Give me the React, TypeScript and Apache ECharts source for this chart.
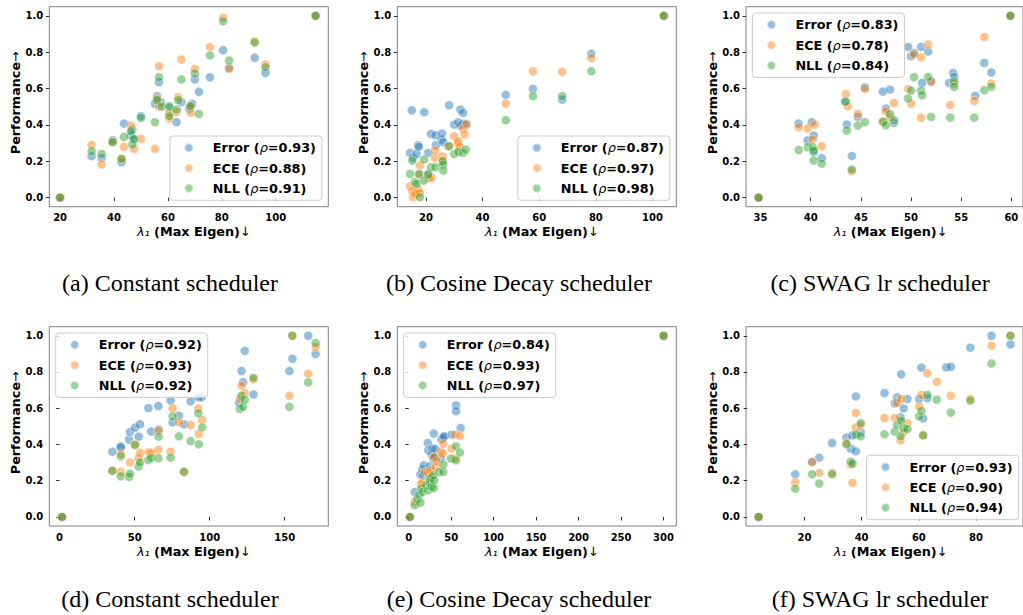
import React, { useEffect, useRef } from "react";
import * as echarts from "echarts";

// ---------- data ----------
const METRICS = ["Error", "ECE", "NLL"];

// (a) Constant scheduler
const aError = [[20,0],[31.7,0.228],[35.4,0.218],[39.5,0.316],[42.8,0.195],[43.7,0.407],[46.3,0.341],[46.8,0.374],[47.4,0.319],[50.0,0.448],[55.2,0.516],[56.0,0.558],[56.7,0.635],[57.4,0.525],[60.5,0.494],[63.2,0.415],[65.0,0.525],[67.9,0.488],[69.0,0.516],[70.0,0.65],[71.5,0.582],[75.6,0.662],[80.5,0.811],[82.7,0.714],[92.2,0.769],[96.2,0.686],[114.8,1.0]];
const aECE = [[20,0],[31.7,0.29],[35.4,0.182],[39.5,0.305],[42.8,0.213],[43.7,0.279],[46.3,0.396],[47.5,0.268],[50.0,0.323],[55.2,0.268],[56.0,0.545],[56.7,0.723],[56.8,0.5],[60.5,0.435],[60.5,0.466],[63.2,0.47],[63.8,0.552],[65.0,0.76],[68.1,0.503],[68.6,0.466],[70.0,0.708],[75.6,0.828],[80.5,0.989],[82.7,0.708],[92.2,0.86],[96.2,0.732],[114.8,1.0]];
const aNLL = [[20,0],[31.7,0.255],[35.4,0.24],[39.5,0.305],[42.8,0.213],[43.7,0.334],[46.3,0.365],[46.8,0.292],[47.4,0.323],[50.0,0.438],[55.2,0.415],[56.0,0.536],[56.7,0.662],[57.7,0.5],[60.5,0.448],[60.5,0.503],[63.2,0.484],[63.8,0.536],[65.0,0.65],[68.4,0.503],[70.0,0.683],[71.5,0.46],[75.6,0.782],[80.5,0.97],[82.7,0.754],[92.2,0.853],[96.2,0.717],[114.8,1.0]];
const aRho = [0.93, 0.88, 0.91];
const aTicks = [20, 40, 60, 80, 100];
const aRange = [16.0, 119.5];

// (b) Cosine Decay scheduler
const bError = [[14.4,0.246],[15.0,0.48],[15.5,0.218],[16.7,0.24],[17.3,0.288],[17.5,0.279],[19.4,0.47],[20.8,0.246],[20.8,0.127],[21.8,0.35],[23.4,0.343],[23.5,0.288],[25.5,0.319],[25.7,0.352],[26.1,0.305],[28.2,0.508],[30.0,0.402],[31.4,0.414],[32.2,0.484],[32.2,0.396],[33.1,0.466],[33.1,0.406],[34.3,0.4],[48.2,0.565],[57.8,0.598],[68.1,0.539],[78.4,0.791],[104,1.0]];
const bECE = [[14.4,0.062],[15.2,0.035],[15.5,0.002],[16.4,0.02],[17.3,0.044],[17.9,0.026],[17.9,0.127],[17.9,0.178],[21.1,0.108],[22.0,0.11],[23.2,0.218],[23.2,0.259],[25.9,0.227],[25.9,0.204],[28.1,0.283],[30.0,0.337],[31.2,0.296],[31.4,0.31],[32.0,0.279],[33.1,0.38],[33.7,0.347],[34.3,0.406],[48.2,0.517],[57.8,0.695],[68.1,0.692],[78.4,0.767],[104,1.0]];
const bNLL = [[14.4,0.13],[15.2,0.204],[16.1,0.086],[16.7,0.075],[17.5,0.13],[17.9,0.002],[19.3,0.094],[19.4,0.209],[20.8,0.127],[21.8,0.167],[23.4,0.167],[25.9,0.2],[26.1,0.182],[26.1,0.149],[28.1,0.283],[30.0,0.24],[31.4,0.251],[33.1,0.246],[34.1,0.264],[48.2,0.426],[57.8,0.558],[68.1,0.558],[78.4,0.695],[104,1.0]];
const bRho = [0.87, 0.97, 0.98];
const bTicks = [20, 40, 60, 80, 100];
const bRange = [9.9, 108.4];

// (c) SWAG lr scheduler
const cError = [[34.8,0],[38.8,0.407],[39.7,0.314],[40.1,0.415],[40.3,0.341],[40.3,0.25],[41.1,0.217],[43.4,0.528],[43.6,0.402],[44.1,0.229],[44.7,0.444],[45.4,0.607],[47.2,0.583],[47.5,0.49],[47.9,0.594],[48.3,0.411],[49.7,0.829],[50.0,0.778],[50.3,0.796],[51.0,0.829],[51.1,0.631],[51.7,0.804],[52.0,0.64],[53.8,0.631],[54.2,0.686],[54.3,0.664],[56.4,0.56],[57.3,0.741],[58.0,0.688],[59.9,1.0]];
const cECE = [[34.8,0],[38.8,0.387],[39.7,0.38],[40.2,0.319],[40.4,0.402],[41.1,0.283],[43.5,0.569],[43.7,0.503],[44.1,0.145],[44.7,0.46],[45.4,0.598],[47.2,0.415],[47.5,0.475],[47.9,0.44],[48.3,0.521],[49.7,0.598],[50.0,0.517],[50.3,0.787],[51.0,0.771],[51.0,0.439],[51.7,0.842],[52.0,0.637],[53.9,0.51],[54.3,0.627],[56.3,0.532],[57.3,0.883],[58.0,0.627],[59.9,1.0]];
const cNLL = [[34.8,0],[38.8,0.262],[39.7,0.277],[40.2,0.277],[40.3,0.259],[40.3,0.204],[41.1,0.187],[43.5,0.528],[43.6,0.369],[44.1,0.154],[44.7,0.396],[45.4,0.415],[47.2,0.418],[47.5,0.398],[47.9,0.459],[48.3,0.426],[49.7,0.545],[50.0,0.589],[50.3,0.662],[51.0,0.589],[51.1,0.563],[51.7,0.664],[52.0,0.444],[53.9,0.44],[54.3,0.64],[54.3,0.609],[56.3,0.44],[57.3,0.591],[58.0,0.609],[59.9,1.0]];
const cRho = [0.83, 0.78, 0.84];
const cTicks = [35, 40, 45, 50, 55, 60];
const cRange = [33.55, 61.16];

// (d) Constant scheduler
const dError = [[1.6,0],[35.2,0.36],[40.8,0.39],[40.8,0.384],[46.3,0.426],[46.9,0.469],[50.3,0.493],[52.7,0.443],[53.6,0.511],[59.2,0.601],[61.0,0.471],[65.8,0.612],[66.0,0.483],[74.0,0.642],[75.3,0.522],[79.5,0.559],[82.9,0.511],[87.3,0.638],[92.4,0.66],[94.6,0.66],[119.7,0.629],[121.2,0.805],[122.3,0.744],[123.4,0.917],[129.2,0.676],[153.1,0.805],[155.1,0.873],[165.7,1.0],[170.6,0.899]];
const dECE = [[1.6,0],[35.2,0.257],[40.8,0.349],[40.8,0.248],[46.9,0.301],[50.3,0.401],[52.7,0.324],[53.6,0.353],[59.2,0.357],[61.0,0.353],[65.8,0.371],[66.0,0.476],[74.0,0.36],[75.3,0.599],[79.5,0.522],[82.9,0.246],[87.3,0.507],[92.4,0.599],[92.8,0.458],[95.0,0.535],[120.1,0.653],[121.2,0.724],[123.4,0.684],[129.2,0.759],[153.1,0.669],[155.1,1.0],[165.7,0.79],[170.6,0.938]];
const dNLL = [[1.6,0],[35.2,0.254],[40.8,0.335],[40.8,0.224],[46.3,0.221],[46.9,0.239],[50.3,0.397],[52.7,0.279],[53.6,0.301],[59.2,0.314],[61.0,0.325],[65.8,0.324],[66.0,0.443],[74.0,0.327],[75.3,0.555],[79.5,0.445],[82.9,0.25],[87.3,0.419],[92.4,0.572],[92.8,0.401],[95.0,0.494],[120.1,0.596],[121.2,0.669],[122.3,0.607],[123.4,0.647],[129.2,0.768],[153.1,0.608],[155.1,1.0],[165.7,0.743],[170.6,0.96]];
const dRho = [0.92, 0.93, 0.92];
const dTicks = [0, 50, 100, 150];
const dRange = [-6.85, 179.05];

// (e) Cosine Decay scheduler
const eError = [[1.5,0],[7.1,0.138],[13.8,0.234],[16.2,0.263],[17.0,0.23],[17.8,0.285],[22.5,0.408],[23.0,0.368],[24.9,0.281],[26.9,0.344],[28.1,0.377],[28.9,0.322],[29.6,0.46],[30.8,0.331],[31.2,0.375],[37.9,0.325],[38.7,0.429],[40.7,0.441],[42.0,0.445],[50.6,0.454],[55.7,0.616],[55.7,0.583],[61.2,0.491],[300,1.0]];
const eECE = [[1.5,0],[7.1,0.083],[14.2,0.179],[15.8,0.19],[19.0,0.248],[23.0,0.245],[25.7,0.258],[26.9,0.221],[29.6,0.331],[32.0,0.276],[32.8,0.307],[37.9,0.362],[39.9,0.35],[40.7,0.405],[50.6,0.377],[54.5,0.454],[54.5,0.322],[60.4,0.447],[300,1.0]];
const eNLL = [[1.5,0],[7.1,0.065],[9.9,0.098],[12.3,0.12],[13.8,0.079],[15.0,0.157],[16.2,0.138],[20.9,0.175],[23.0,0.147],[24.9,0.19],[24.9,0.21],[26.9,0.166],[28.9,0.23],[29.6,0.16],[30.1,0.202],[36.0,0.248],[40.7,0.248],[40.7,0.289],[49.7,0.322],[55.7,0.39],[55.7,0.313],[60.4,0.355],[300,1.0]];
const eRho = [0.84, 0.93, 0.97];
const eTicks = [0, 50, 100, 150, 200, 250, 300];
const eRange = [-13.4, 315];

// (f) SWAG lr scheduler
const fError = [[4.0,0],[16.8,0.235],[22.7,0.303],[25.2,0.327],[29.7,0.408],[34.7,0.438],[36.2,0.377],[36.8,0.45],[38.0,0.362],[38.0,0.665],[39.7,0.467],[48.0,0.684],[51.6,0.627],[52.4,0.66],[53.6,0.55],[53.8,0.787],[54.7,0.599],[56.0,0.651],[60.1,0.651],[60.9,0.824],[61.5,0.544],[63.0,0.656],[69.6,0.825],[71.2,0.829],[78.0,0.934],[85.4,1.0],[92.0,0.952]];
const fECE = [[4.0,0],[16.8,0.191],[22.7,0.303],[25.2,0.243],[29.7,0.243],[34.7,0.408],[36.2,0.289],[36.8,0.188],[38.0,0.493],[38.0,0.574],[39.7,0.507],[48.0,0.546],[51.6,0.546],[52.4,0.629],[53.6,0.423],[53.8,0.651],[54.7,0.467],[56.0,0.518],[60.1,0.61],[60.9,0.673],[61.5,0.449],[63.0,0.794],[66.3,0.746],[71.2,0.669],[78.0,0.651],[85.4,0.945],[92.0,1.0]];
const fNLL = [[4.0,0],[16.8,0.156],[22.7,0.235],[25.2,0.184],[29.7,0.235],[34.7,0.401],[36.2,0.305],[36.8,0.294],[38.0,0.454],[39.7,0.518],[39.7,0.445],[48.0,0.456],[51.6,0.471],[52.4,0.507],[53.6,0.445],[53.8,0.531],[54.7,0.489],[56.0,0.485],[60.1,0.555],[60.9,0.585],[61.5,0.451],[63.0,0.673],[66.3,0.647],[71.2,0.576],[78.0,0.642],[85.4,0.847],[92.0,1.0]];
const fRho = [0.93, 0.90, 0.94];
const fTicks = [20, 40, 60, 80];
const fRange = [-0.4, 96.4];

const yTicks = [0, 0.2, 0.4, 0.6, 0.8, 1.0];
const yRange = [-0.05, 1.05];

const X_NAME = "{i|λ₁}{b| (Max Eigen)}{a|↓}";
const Y_NAME = "{b|Performance}{a|→}";

const CAPTIONS = [
  "(a) Constant scheduler",
  "(b) Cosine Decay scheduler",
  "(c) SWAG lr scheduler",
  "(d) Constant scheduler",
  "(e) Cosine Decay scheduler",
  "(f) SWAG lr scheduler",
];

const PANELS = [
  { id: "a", series: [aError, aECE, aNLL], rho: aRho, ticks: aTicks, range: aRange, legend: "lr" },
  { id: "b", series: [bError, bECE, bNLL], rho: bRho, ticks: bTicks, range: bRange, legend: "lr" },
  { id: "c", series: [cError, cECE, cNLL], rho: cRho, ticks: cTicks, range: cRange, legend: "ul" },
  { id: "d", series: [dError, dECE, dNLL], rho: dRho, ticks: dTicks, range: dRange, legend: "ul" },
  { id: "e", series: [eError, eECE, eNLL], rho: eRho, ticks: eTicks, range: eRange, legend: "ul" },
  { id: "f", series: [fError, fECE, fNLL], rho: fRho, ticks: fTicks, range: fRange, legend: "lr" },
];

// ---------- layout / style ----------
const W = 1023;
const H = 615;
const GRID_LEFTS = [49.3, 397.3, 746];
const GRID_TOPS = [6.7, 326.7];
const GRID_HEIGHTS = [200, 199.3];
const GRID_W = 279;
const CAPTION_X = [170, 519, 880];
const CAPTION_Y = [283, 599];
const LEG_PAD = 6.4;

const COLORS = ["rgba(31,119,180,0.6)", "rgba(255,127,14,0.6)", "rgba(44,160,44,0.6)"];
const SANS = "DejaVu Sans";
const LABEL_FS = 12.8;
const TICK_FS = 10;

export default function App() {
  const ref = useRef<HTMLDivElement>(null);

  useEffect(() => {
    if (!ref.current) return;
    const chart = echarts.init(ref.current, null, { renderer: "svg" });

    const grids: any[] = [];
    const xAxes: any[] = [];
    const yAxes: any[] = [];
    const series: any[] = [];
    const legends: any[] = [];
    const graphics: any[] = [];

    const richName = {
      b: { fontFamily: SANS, fontWeight: "bold", fontSize: LABEL_FS, fill: "#000" },
      i: { fontFamily: SANS, fontStyle: "italic", fontWeight: "normal", fontSize: LABEL_FS, fill: "#000" },
      a: { fontFamily: SANS, fontWeight: "normal", fontSize: LABEL_FS, fill: "#000" },
    };

    PANELS.forEach((p, idx) => {
      const col = idx % 3;
      const row = Math.floor(idx / 3);
      const left = GRID_LEFTS[col];
      const top = GRID_TOPS[row];
      const h = GRID_HEIGHTS[row];
      grids.push({
        left, top, width: GRID_W, height: h,
        show: true, borderColor: "#808080", borderWidth: 1, backgroundColor: "transparent",
        containLabel: false,
      });
      xAxes.push({
        type: "value", gridIndex: idx, min: p.range[0], max: p.range[1],
        axisLine: { show: false },
        splitLine: { show: false },
        axisTick: { show: true, length: 3.5, lineStyle: { color: "#333" }, customValues: p.ticks },
        axisLabel: {
          customValues: p.ticks, fontFamily: SANS, fontWeight: "bold", fontSize: TICK_FS, color: "#000", margin: 6,
          formatter: (v: number) => String(Math.round(v)),
        },
      });
      yAxes.push({
        type: "value", gridIndex: idx, min: yRange[0], max: yRange[1],
        axisLine: { show: false },
        splitLine: { show: false },
        axisTick: { show: true, length: 3.5, lineStyle: { color: "#333" }, customValues: yTicks },
        axisLabel: {
          customValues: yTicks, fontFamily: SANS, fontWeight: "bold", fontSize: TICK_FS, color: "#000", margin: 6,
          formatter: (v: number) => v.toFixed(1),
        },
      });
      const names: string[] = [];
      p.series.forEach((data, k) => {
        const name = `${p.id}:${k}`;
        names.push(name);
        series.push({
          type: "scatter", name, xAxisIndex: idx, yAxisIndex: idx, data,
          symbol: "circle", symbolSize: 9,
          itemStyle: { color: COLORS[k], borderColor: "rgba(255,255,255,0.7)", borderWidth: 0.8 },
          emphasis: { disabled: true }, silent: true,
        });
      });
      const legend: any = {
        data: names, orient: "vertical", selectedMode: false, icon: "circle",
        itemWidth: 38, itemHeight: 9, itemGap: 4.3,
        padding: [3.7, 6, 4, 13.5],
        backgroundColor: "rgba(255,255,255,0.8)", borderColor: "#cccccc", borderWidth: 1, borderRadius: 3,
        formatter: (name: string) => {
          const k = Number(name.split(":")[1]);
          return `{b|${METRICS[k]} (}{i|ρ}{b|=${p.rho[k].toFixed(2)})}`;
        },
        textStyle: {
          fontFamily: SANS, fontWeight: "bold", fontSize: LABEL_FS, lineHeight: 16, color: "#000",
          rich: {
            b: { fontFamily: SANS, fontWeight: "bold", fontSize: LABEL_FS, lineHeight: 16, color: "#000" },
            i: { fontFamily: SANS, fontStyle: "italic", fontWeight: "normal", fontSize: LABEL_FS, lineHeight: 16, color: "#000" },
          },
        },
      };
      if (p.legend === "lr") {
        legend.right = W - (left + GRID_W - LEG_PAD);
        legend.bottom = H - (top + h - LEG_PAD);
      } else {
        legend.left = left + LEG_PAD;
        legend.top = top + LEG_PAD;
      }
      legends.push(legend);
      // axis titles
      graphics.push({
        type: "text", x: left + 144.5, y: top + h + 25,
        style: { text: X_NAME, rich: richName, align: "center", verticalAlign: "middle" },
      });
      graphics.push({
        type: "text", x: left - 34, y: top + 96, rotation: Math.PI / 2,
        style: { text: Y_NAME, rich: richName, align: "center", verticalAlign: "middle" },
      });
      graphics.push({
        type: "text", x: CAPTION_X[col], y: CAPTION_Y[row],
        style: {
          text: CAPTIONS[idx], fontFamily: "Liberation Serif", fontSize: 24, fill: "#000",
          align: "center", verticalAlign: "middle",
        },
      });
    });

    chart.setOption({
      animation: false,
      grid: grids,
      xAxis: xAxes,
      yAxis: yAxes,
      series,
      legend: legends,
      graphic: graphics,
    });

    return () => chart.dispose();
  }, []);

  return (
    <div
      ref={ref}
      style={{ position: "absolute", left: 0, top: 0, width: W, height: H, background: "#fff" }}
    />
  );
}
